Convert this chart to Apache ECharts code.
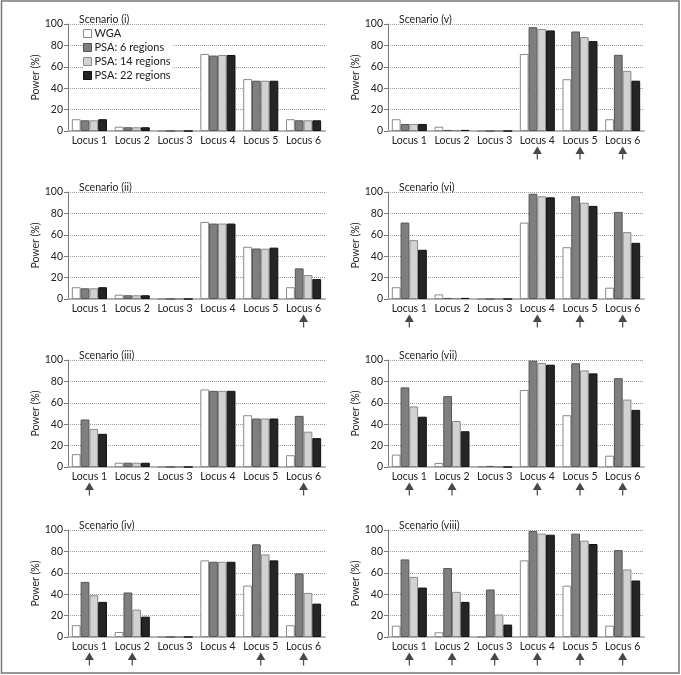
<!DOCTYPE html>
<html>
<head>
<meta charset="utf-8">
<script src="https://cdn.jsdelivr.net/npm/echarts@6/dist/echarts.min.js"></script>
<style>
html,body{margin:0;padding:0;background:#fff;}
#chart{width:681px;height:675px;}
</style>
</head>
<body>
<div id="chart"></div>
<script>
// ---------- data ----------
const loci = ['Locus 1', 'Locus 2', 'Locus 3', 'Locus 4', 'Locus 5', 'Locus 6'];
const seriesNames = ['WGA', 'PSA: 6 regions', 'PSA: 14 regions', 'PSA: 22 regions'];
const scenarioTitles = ['Scenario (i)', 'Scenario (ii)', 'Scenario (iii)', 'Scenario (iv)',
                        'Scenario (v)', 'Scenario (vi)', 'Scenario (vii)', 'Scenario (viii)'];
const yTicks = [0, 20, 40, 60, 80, 100];

// Scenario (i)
const wga_i   = [11, 4, 0, 72, 48.5, 11];
const psa6_i  = [10, 3.5, 0, 70.5, 47, 10];
const psa14_i = [10, 3.5, 0, 71, 47, 10];
const psa22_i = [11, 3.5, 0, 71, 47, 10];
const arrows_i = [];
// Scenario (ii)
const wga_ii   = [11, 4, 0, 72, 48.8, 11];
const psa6_ii  = [10, 3.5, 0, 70.5, 47.2, 28.6];
const psa14_ii = [10, 3.5, 0, 70.5, 47, 22.4];
const psa22_ii = [11, 3.5, 0, 70.5, 48, 18.6];
const arrows_ii = ['Locus 6'];
// Scenario (iii)
const wga_iii   = [12, 4, 0, 72.5, 48.4, 11];
const psa6_iii  = [44.4, 4, 0, 71.2, 45.3, 47.8];
const psa14_iii = [35.6, 4, 0, 71.2, 45.3, 33];
const psa22_iii = [31, 4, 0, 71.2, 45.3, 27];
const arrows_iii = ['Locus 1', 'Locus 6'];
// Scenario (iv)
const wga_iv   = [11, 4.7, 0, 71.6, 48, 11];
const psa6_iv  = [51.5, 41.6, 0, 70.3, 86.6, 59.4];
const psa14_iv = [39, 25.6, 0, 70.3, 77.2, 41.2];
const psa22_iv = [32.8, 19, 0, 70.3, 71.6, 31.2];
const arrows_iv = ['Locus 1', 'Locus 2', 'Locus 5', 'Locus 6'];
// Scenario (v)
const wga_v   = [11, 4, 0, 72, 48.4, 11];
const psa6_v  = [6.6, 1, 0, 97, 93, 71.2];
const psa14_v = [6.6, 1, 0, 95.3, 87.8, 56.2];
const psa22_v = [6.6, 1, 0, 94, 84, 47];
const arrows_v = ['Locus 4', 'Locus 5', 'Locus 6'];
// Scenario (vi)
const wga_vi   = [11, 4.3, 0, 71.4, 48.4, 10.6];
const psa6_vi  = [71.4, 1, 0, 98.4, 96, 81.4];
const psa14_vi = [55, 1, 0, 96, 90, 62.5];
const psa22_vi = [46, 1, 0, 95, 87, 52.5];
const arrows_vi = ['Locus 1', 'Locus 4', 'Locus 5', 'Locus 6'];
// Scenario (vii)
const wga_vii   = [11.6, 3.8, 0.5, 72, 48.4, 10.6];
const psa6_vii  = [74.4, 66.2, 1, 99.4, 97, 83];
const psa14_vii = [56.6, 43, 0, 97.2, 90.3, 63];
const psa22_vii = [47, 33.4, 0, 95.6, 87.5, 53.4];
const arrows_vii = ['Locus 1', 'Locus 2', 'Locus 4', 'Locus 5', 'Locus 6'];
// Scenario (viii)
const wga_viii   = [10.6, 4.4, 0, 71.6, 48, 10.6];
const psa6_viii  = [72.5, 64.4, 44.4, 99, 96.6, 81.2];
const psa14_viii = [56.2, 42.2, 21, 96.6, 90, 63.1];
const psa22_viii = [46.2, 32.8, 11.6, 95.6, 86.9, 52.8];
const arrows_viii = ['Locus 1', 'Locus 2', 'Locus 3', 'Locus 4', 'Locus 5', 'Locus 6'];

const panels = [
  [wga_i, psa6_i, psa14_i, psa22_i, arrows_i],
  [wga_ii, psa6_ii, psa14_ii, psa22_ii, arrows_ii],
  [wga_iii, psa6_iii, psa14_iii, psa22_iii, arrows_iii],
  [wga_iv, psa6_iv, psa14_iv, psa22_iv, arrows_iv],
  [wga_v, psa6_v, psa14_v, psa22_v, arrows_v],
  [wga_vi, psa6_vi, psa14_vi, psa22_vi, arrows_vi],
  [wga_vii, psa6_vii, psa14_vii, psa22_vii, arrows_vii],
  [wga_viii, psa6_viii, psa14_viii, psa22_viii, arrows_viii]
];

// ---------- layout & style ----------
const FONT = 'Lato';
const colLeft = [68, 388];
const colWidth = [257, 256];
const rowTop = [24, 192, 360, 530];
const plotH = 107;
const barStyles = [
  { color: '#ffffff', borderColor: '#8a8a8a', borderWidth: 1 },
  { color: '#7f7f7f', borderColor: '#555555', borderWidth: 1 },
  { color: '#d2d2d2', borderColor: '#8a8a8a', borderWidth: 1 },
  { color: '#252525', borderColor: '#111111', borderWidth: 1 }
];
const arrowPath = 'path://M4.5,0 L9,7.5 L5.1,7.5 L5.1,13 L3.9,13 L3.9,7.5 L0,7.5 Z';

const grids = [], xAxes = [], yAxes = [], series = [], titles = [];
panels.forEach((p, i) => {
  const col = i < 4 ? 0 : 1;
  const row = i % 4;
  grids.push({ left: colLeft[col], top: rowTop[row], width: colWidth[col], height: plotH });
  titles.push({
    text: scenarioTitles[i],
    left: colLeft[col] + 6, top: rowTop[row] - 15,
    textStyle: { fontFamily: FONT, fontSize: 10.5, fontWeight: 'normal', color: '#222' }
  });
  xAxes.push({
    type: 'category', gridIndex: i, data: loci,
    axisLine: { show: true, lineStyle: { color: '#b5b5b5', width: 2 } },
    axisTick: { show: false },
    axisLabel: { fontFamily: FONT, fontSize: 10.5, color: '#222', margin: 4, interval: 0 }
  });
  yAxes.push({
    type: 'value', gridIndex: i, min: yTicks[0], max: yTicks[yTicks.length - 1], interval: 20,
    name: 'Power (%)', nameLocation: 'middle', nameGap: 21, nameRotate: 90,
    nameTextStyle: { fontFamily: FONT, fontSize: 10.5, color: '#222' },
    axisLine: { show: true, lineStyle: { color: '#777', width: 1 } },
    axisTick: { show: true, length: 4, lineStyle: { color: '#777' } },
    axisLabel: { fontFamily: FONT, fontSize: 10.5, color: '#222', margin: 5 },
    splitLine: { show: true, lineStyle: { type: 'dotted', color: '#999', width: 1 } }
  });
  for (let s = 0; s < 4; s++) {
    series.push({
      type: 'bar', name: seriesNames[s], xAxisIndex: i, yAxisIndex: i,
      data: p[s], barGap: '0%', barCategoryGap: '18%',
      itemStyle: barStyles[s], emphasis: { disabled: true }, silent: true
    });
  }
  series.push({
    type: 'scatter', xAxisIndex: i, yAxisIndex: i, clip: false, silent: true,
    symbol: arrowPath, symbolSize: [9, 13], symbolOffset: [0, 22],
    itemStyle: { color: '#1a1a1a' },
    data: p[4].map(l => [l, 0])
  });
});

const chart = echarts.init(document.getElementById('chart'), null, { renderer: 'canvas' });
chart.setOption({
  animation: false,
  backgroundColor: '#fff',
  title: titles,
  grid: grids,
  xAxis: xAxes,
  yAxis: yAxes,
  legend: {
    data: seriesNames.map((n, s) => ({ name: n, icon: 'rect', itemStyle: barStyles[s] })),
    orient: 'vertical', left: 83, top: 28,
    itemWidth: 8, itemHeight: 8, itemGap: 3,
    textStyle: { fontFamily: FONT, fontSize: 11, color: '#222', padding: [0, 0, 0, -2] },
    backgroundColor: '#fff', padding: [0, 2, 0, 0], selectedMode: false
  },
  graphic: [{
    type: 'rect', shape: { x: 1.5, y: 1, width: 677.5, height: 672 },
    style: { fill: null, stroke: '#777', lineWidth: 1.5 }, silent: true
  }],
  series: series
});
</script>
</body>
</html>
